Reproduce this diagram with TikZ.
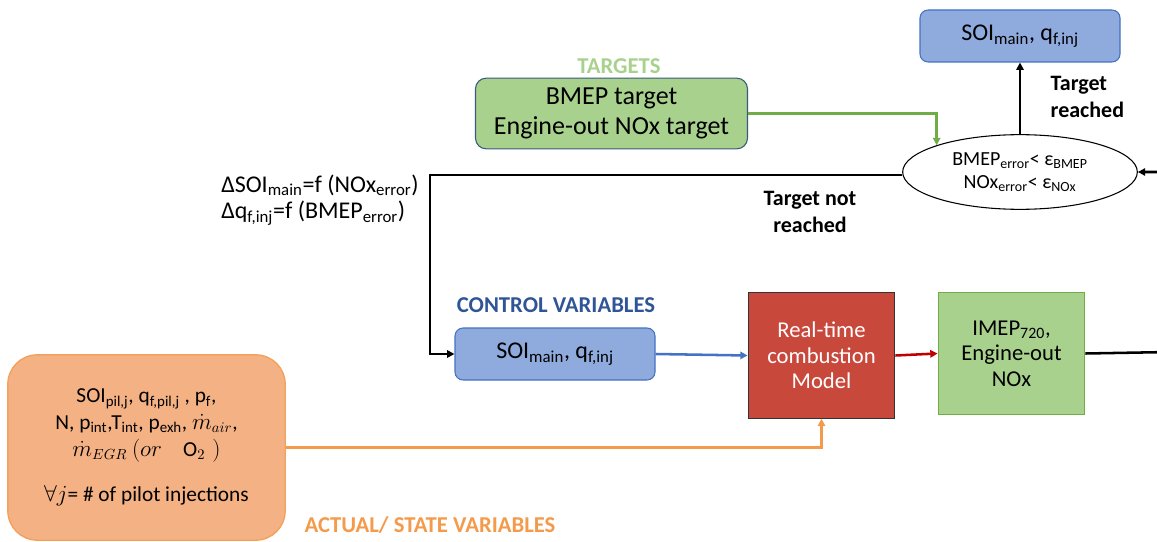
\documentclass[tikz,border=0pt]{standalone}
\usepackage{fontspec}
\setmainfont{Carlito}
\usetikzlibrary{arrows.meta,shapes.geometric}

\definecolor{ctrlfill}{HTML}{8FAADC}
\definecolor{ctrlline}{HTML}{4472C4}
\definecolor{tgtfill}{HTML}{A9D18E}
\definecolor{tgtline}{HTML}{3A5A7C}
\definecolor{tgtlabel}{HTML}{A9D18E}
\definecolor{imepline}{HTML}{70AD47}
\definecolor{modelfill}{HTML}{C9483C}
\definecolor{statefill}{HTML}{F4B183}
\definecolor{stateline}{HTML}{F4A05A}
\definecolor{statelabel}{HTML}{F39A4B}
\definecolor{ctrllabel}{HTML}{2F5597}
\definecolor{greenarr}{HTML}{70AD47}
\definecolor{bluearr}{HTML}{4472C4}
\definecolor{redarr}{HTML}{C00000}
\definecolor{orangearr}{HTML}{F39A4B}

\newcommand{\lo}[1]{\textsubscript{#1}}

\begin{document}
\begin{tikzpicture}[x=0.75pt,y=-0.75pt,
	ctrlbox/.style={rectangle, rounded corners=6pt, draw=ctrlline, fill=ctrlfill, line width=0.8pt, minimum width=150pt, minimum height=39pt, font=\fontsize{18}{20}\selectfont},
	tgtbox/.style={rectangle, rounded corners=8pt, draw=tgtline, fill=tgtfill, line width=0.8pt, minimum width=204pt, minimum height=53pt, align=center, inner sep=0pt, font=\fontsize{19.5}{23}\selectfont},
	modelbox/.style={rectangle, draw=black!80, fill=modelfill, line width=0.8pt, minimum width=110pt, minimum height=94pt, align=center, text=white, font=\fontsize{17}{19}\selectfont},
	imepbox/.style={rectangle, draw=imepline, fill=tgtfill, line width=0.8pt, minimum width=110pt, minimum height=92pt, align=center, font=\fontsize{17}{19}\selectfont},
	statebox/.style={rectangle, rounded corners=22pt, draw=stateline, fill=statefill, line width=1pt, minimum width=208pt, minimum height=139pt, align=center, font=\fontsize{16}{20}\selectfont},
	checknode/.style={ellipse, draw=black, line width=0.8pt, minimum width=176pt, minimum height=56pt, align=center, inner sep=0pt, font=\fontsize{15}{17}\selectfont},
	grouplabel/.style={font=\bfseries\fontsize{17}{19}\selectfont},
	textlabel/.style={align=left, font=\fontsize{18}{20}\selectfont},
	boldlabel/.style={font=\bfseries\fontsize{16.5}{20}\selectfont},
	conn/.style={line width=1.9pt, -{Triangle[length=5.5pt,width=5.5pt]}}
	]
	\useasboundingbox (0,0) rectangle (1157,542);
	\clip (0,0) rectangle (1157,542);

	\node 	(top)		at	(1020,36) 	[ctrlbox]{SOI\lo{main}, q\lo{f,inj}};
	\node 	(ell)		at	(1020,172) 	[checknode]{BMEP\lo{error}< ε\lo{BMEP}\\NOx\lo{error}< ε\lo{NOx}};
	\node 	(tgt)		at	(611.5,113.5) 	[tgtbox]{BMEP target\\Engine-out NOx target};
	\node 	(ctrl)		at	(555,354) 	[ctrlbox]{SOI\lo{main}, q\lo{f,inj}};
	\node 	(model)		at	(821.5,355.5) 	[modelbox]{Real-time\\combustion\\Model};
	\node 	(imep)		at	(1011.5,353.5) 	[imepbox]{IMEP\lo{720},\\Engine-out\\NOx};
	\node 	(state)		at	(146.5,447.5) 	[statebox]{SOI\lo{pil,j}, q\lo{f,pil,j} , p\lo{f},\\
		N, p\lo{int},T\lo{int}, p\lo{exh}, $\dot{m}_{air}$,\\
		$\dot{m}_{EGR}$ $(or$\quad O$_2$\,\,$)$\\[14pt]
		$\forall j$= \# of pilot injections};

	% group labels
	\node 	(tgtlab)	at	(619,66) 	[grouplabel, text=tgtlabel]{TARGETS};
	\node 	(ctrllab)	at	(556,305) 	[grouplabel, text=ctrllabel]{CONTROL VARIABLES};
	\node 	(statelab)	at	(430,525) 	[grouplabel, text=statelabel]{ACTUAL/ STATE VARIABLES};
	\node 	(reached)	at	(1046,97) 	[boldlabel, anchor=west, align=left]{Target\\reached};
	\node 	(notreached)	at	(810,212) 	[boldlabel, align=center]{Target not\\reached};
	\node 	(update)	at	(320,200) 	[textlabel]{ΔSOI\lo{main}=f (NOx\lo{error})\\Δq\lo{f,inj}=f (BMEP\lo{error})};

	\coordinate (turn) at (430,175);
	\coordinate (back) at (1170,352);

	\draw[conn, greenarr] (tgt.east) -| (ell.north west);
	\draw[conn] (ell.north) -- (top.south);
	\draw[conn] (ell.west |- turn) -- (turn) |- (ctrl.west);
	\draw[conn, bluearr] (ctrl.east) -- (model.west);
	\draw[conn, redarr] (model.east) -- (imep.west);
	\draw[conn] (imep.east) -- (back) |- (ell.east);
	\draw[conn, orangearr] (state.east) -| (model.south);

\end{tikzpicture}
\end{document}
